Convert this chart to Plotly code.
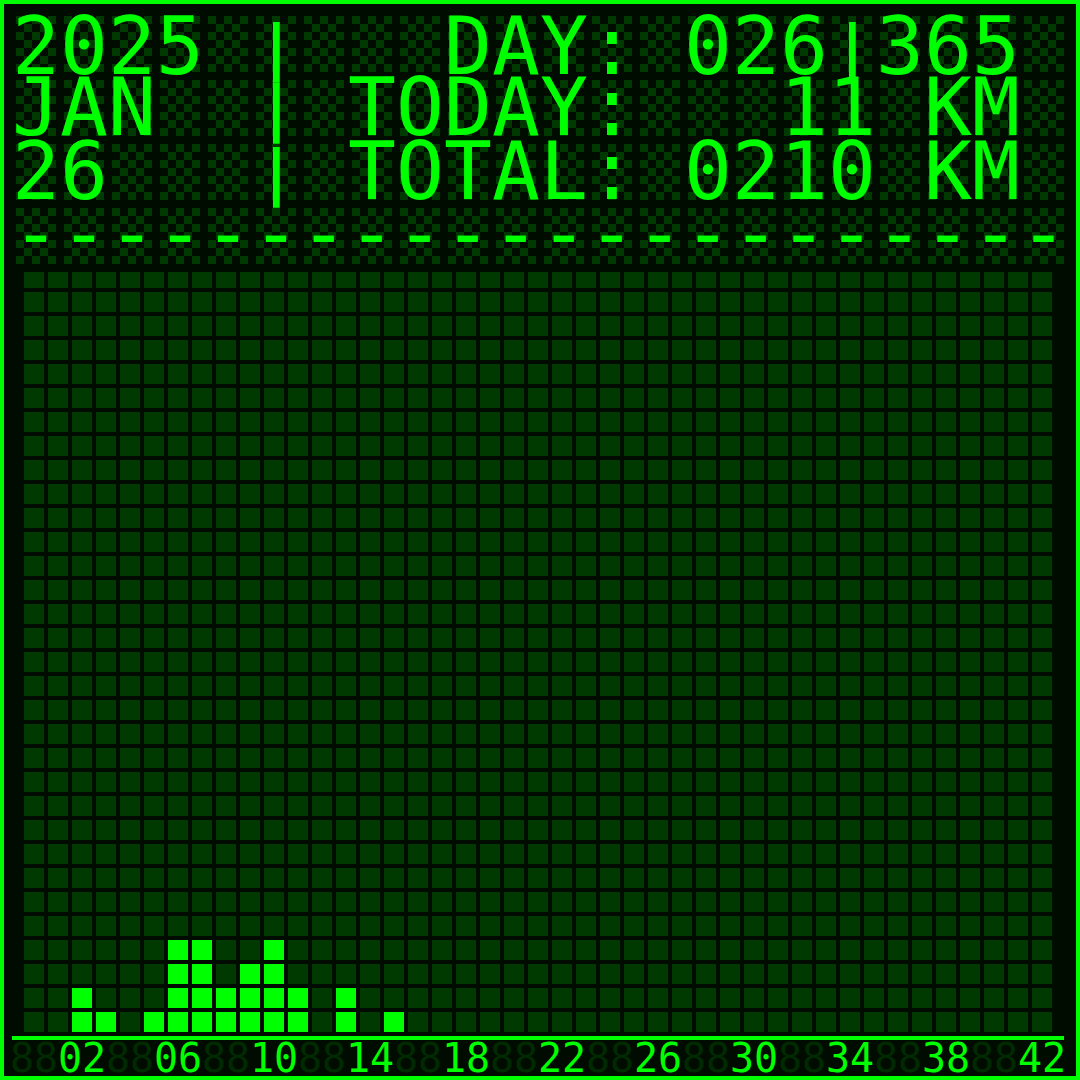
import plotly.graph_objects as go

# ---------------- data ----------------
YEAR = 2025
MONTH = "JAN"
DAY_OF_MONTH = 26
DAY_OF_YEAR = 26
DAYS_IN_YEAR = 365
TODAY_KM = 11
TOTAL_KM = 210

# histogram: number of days per daily distance (km 0..42)
km_values = list(range(0, 43))
day_counts = [0, 0, 2, 1, 0, 1, 4, 4, 2, 3, 4, 2, 0, 2, 0, 1,
              0, 0, 0, 0, 0, 0, 0, 0, 0, 0, 0, 0, 0, 0, 0, 0,
              0, 0, 0, 0, 0, 0, 0, 0, 0, 0, 0]
N_ROWS = 32

tick_vals = [0, 2, 4, 6, 8, 10, 12, 14, 16, 18, 20, 22, 24, 26, 28, 30, 32, 34, 36, 38, 40, 42]
tick_labels = ["00", "02", "04", "06", "08", "10", "12", "14", "16", "18", "20",
               "22", "24", "26", "28", "30", "32", "34", "36", "38", "40", "42"]
tick_lit = [False, True] * 11

# ---------------- style ----------------
W = H = 1080
BG = "#000c00"
DIM = "#003a00"
BRIGHT = "#00ff00"
SEG_DIM = "#002a00"
MONO = "DejaVu Sans Mono"
CHAR_W = 48          # pixel pitch of one header character
LINE_H = 64          # pixel pitch of one header line
HDR_X0, HDR_Y0 = 16, 16
FONT_SIZE = 79.7     # DejaVu Sans Mono advance 0.602 em -> 48 px


def px_x(p):
    return p / W


def px_y(p):
    return 1 - p / H


# grid z built from the counts
z = [[1 if r < day_counts[c] else 0 for c in range(len(km_values))] for r in range(N_ROWS)]

fig = go.Figure()

fig.add_trace(go.Heatmap(
    z=z, x=km_values, y=list(range(N_ROWS)),
    colorscale=[[0, DIM], [1, BRIGHT]], zmin=0, zmax=1,
    xgap=4, ygap=4, showscale=False, hoverinfo="skip",
    xaxis="x", yaxis="y",
))

# decorative dot-matrix backdrop of the header (5x7 dots per character cell)
n_chars, n_lines = 22, 4
chk = []
for r in range(n_lines * 8):
    row = []
    for c in range(n_chars * 6):
        cc, rr = c % 6, r % 8
        row.append(1 if (cc < 5 and rr < 7 and (cc + rr) % 2 == 0) else None)
    chk.append(row)
fig.add_trace(go.Heatmap(
    z=chk, colorscale=[[0, DIM], [1, DIM]], zmin=0, zmax=1,
    showscale=False, hoverinfo="skip", xaxis="x2", yaxis="y2",
))

# header text, token by token on the character grid: (text, column)
header_rows = [
    [(f"{YEAR}", 0), ("|", 5), ("DAY:", 9), (f"{DAY_OF_YEAR:03d}", 14), ("|", 17),
     (f"{DAYS_IN_YEAR}", 18)],
    [(MONTH, 0), ("|", 5), ("TODAY:", 7), (f"{TODAY_KM:>2}", 16), ("KM", 19)],
    [(f"{DAY_OF_MONTH}", 0), ("|", 5), ("TOTAL:", 7), (f"{TOTAL_KM:04d}", 14), ("KM", 19)],
]
row_nudge = [3, 0, 0]     # keep the first line inside the frame

annotations = []
for li, tokens in enumerate(header_rows):
    yc = HDR_Y0 + li * LINE_H + 28 + row_nudge[li]   # centre of the 56 px glyph band
    for txt, col in tokens:
        if txt == "|":
            annotations.append(dict(
                text=txt, xref="paper", yref="paper",
                x=px_x(HDR_X0 + col * CHAR_W + 20), y=px_y(yc),
                xanchor="center", yanchor="middle",
                showarrow=False, borderpad=0, borderwidth=0,
                font=dict(family=MONO, size=61, color=BRIGHT, weight="bold"),
            ))
        else:
            annotations.append(dict(
                text=txt, xref="paper", yref="paper",
                x=px_x(HDR_X0 - 4 + col * CHAR_W), y=px_y(yc),
                xanchor="left", yanchor="middle",
                showarrow=False, borderpad=0, borderwidth=0,
                font=dict(family=MONO, size=FONT_SIZE, color=BRIGHT),
            ))

# separator line of dashes
annotations.append(dict(
    text="-" * n_chars, xref="paper", yref="paper",
    x=px_x(HDR_X0 - 4), y=px_y(HDR_Y0 + 3 * LINE_H + 25), xanchor="left", yanchor="middle",
    showarrow=False, borderpad=0, borderwidth=0,
    font=dict(family=MONO, size=FONT_SIZE, color=BRIGHT),
))

# bottom axis labels (seven-segment look: unlit '88' dim, lit labels bright)
for v, lab, lit in zip(tick_vals, tick_labels, tick_lit):
    annotations.append(dict(
        text=lab if lit else "88", xref="x", yref="paper",
        x=v, y=px_y(1058), xanchor="center", yanchor="middle",
        showarrow=False, borderpad=0, borderwidth=0,
        font=dict(family=MONO, size=40, color=BRIGHT if lit else SEG_DIM),
    ))

shapes = [
    dict(type="line", xref="paper", yref="paper",
         x0=px_x(12), x1=px_x(1064), y0=px_y(1038), y1=px_y(1038),
         line=dict(color=BRIGHT, width=4)),
    dict(type="rect", xref="paper", yref="paper",
         x0=px_x(2), x1=px_x(1078), y0=px_y(1078), y1=px_y(2),
         line=dict(color=BRIGHT, width=4), fillcolor="rgba(0,0,0,0)"),
]

hidden = dict(showgrid=False, zeroline=False, showticklabels=False, ticks="",
              showline=False, fixedrange=True)

fig.update_layout(
    width=W, height=H, margin=dict(l=0, r=0, t=0, b=0, pad=0),
    paper_bgcolor=BG, plot_bgcolor=BG, showlegend=False,
    xaxis=dict(domain=[px_x(22), px_x(1054)], range=[-0.5, 42.5], **hidden),
    yaxis=dict(domain=[px_y(1034), px_y(266)], range=[-0.5, N_ROWS - 0.5], **hidden),
    xaxis2=dict(domain=[px_x(HDR_X0), px_x(HDR_X0 + n_chars * CHAR_W)],
                range=[-0.5, n_chars * 6 - 0.5], anchor="y2", **hidden),
    yaxis2=dict(domain=[px_y(HDR_Y0 + n_lines * LINE_H), px_y(HDR_Y0)],
                range=[n_lines * 8 - 0.5, -0.5], anchor="x2", **hidden),
    annotations=annotations, shapes=shapes,
)

fig.write_html("out.html")
